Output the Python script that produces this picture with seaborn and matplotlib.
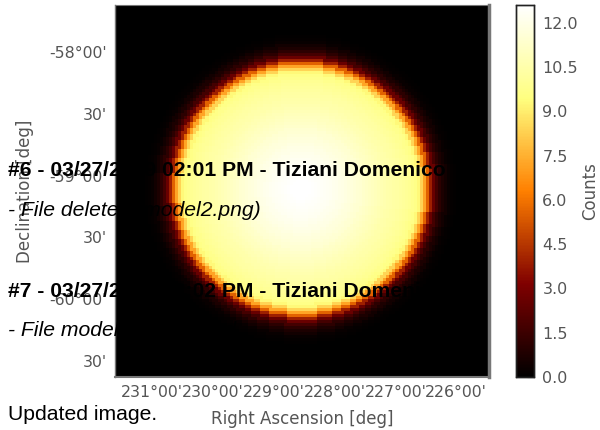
import numpy as np
import seaborn as sns
import matplotlib
matplotlib.use('Agg')
import matplotlib.pyplot as plt

# counts per ring of cells, going out from the centre of the disc
ring_counts = [12.6, 12.6, 12.58, 12.56, 12.53, 12.5, 12.45, 12.4, 12.35, 12.3,
               12.22, 12.15, 12.08, 12.0, 11.92, 11.84, 11.76, 11.68, 11.6, 11.5,
               11.42, 11.32, 11.22, 11.12, 11.02, 10.92, 10.82, 10.72, 10.6, 10.5,
               10.45, 10.38, 10.3, 10.2, 10.1, 10.0, 9.9, 9.75, 9.6, 9.3,
               8.4, 7.2, 5.6, 3.9, 2.6, 1.7, 1.1, 0.7, 0.45, 0.2,
               0.1, 0.05, 0.02, 0.0]
ra_ticks = [231, 230, 229, 228, 227, 226]
ra_labels = ["231°00'", "230°00'", "229°00'", "228°00'", "227°00'", "226°00'"]
dec_ticks = [-58.0, -58.5, -59.0, -59.5, -60.0, -60.5]
dec_labels = ["-58°00'", "30'", "-59°00'", "30'", "-60°00'", "30'"]
cbar_ticks = [0.0, 1.5, 3.0, 4.5, 6.0, 7.5, 9.0, 10.5, 12.0]
ra_range = (231.61, 225.46)
dec_range = (-57.62, -60.63)
centre_cell = (61.2, 60.8)

ncells = 124
rows, cols = np.mgrid[0:ncells, 0:ncells]
rings = np.hypot(cols - centre_cell[0], rows - centre_cell[1]).round().astype(int)
image = np.array(ring_counts)[np.minimum(rings, len(ring_counts) - 1)]

sns.set_style('white')
plt.rcParams['font.family'] = ['DejaVu Sans']
grey = '#555555'

fig = plt.figure(figsize=(6, 4.3), dpi=100)
ax = fig.add_axes([115 / 600, 1 - 377 / 430, 374 / 600, 372 / 430])
cax = fig.add_axes([516 / 600, 1 - 377 / 430, 18 / 600, 372 / 430])
sns.heatmap(image, ax=ax, cbar_ax=cax, cmap='afmhot', vmin=0, vmax=12.6,
            xticklabels=False, yticklabels=False,
            cbar_kws={'ticks': cbar_ticks})
cax.set_yticklabels(['%.1f' % t for t in cbar_ticks])

xpos = [(ra_range[0] - t) / (ra_range[0] - ra_range[1]) * ncells for t in ra_ticks]
ypos = [(dec_range[0] - t) / (dec_range[0] - dec_range[1]) * ncells for t in dec_ticks]
ax.set_xticks(xpos)
ax.set_xticklabels(ra_labels)
ax.set_yticks(ypos)
ax.set_yticklabels(dec_labels)
ax.tick_params(axis='both', direction='in', length=4, width=0.8, color='#777777',
               labelcolor=grey, labelsize=11.3, pad=6, top=True, right=True,
               bottom=True, left=True)
ax.set_xlabel('Right Ascension [deg]', color=grey, fontsize=12, labelpad=7)
ax.set_ylabel('Declination [deg]', color=grey, fontsize=12, labelpad=11)
for name, lw in [('top', 0.8), ('left', 1.0), ('bottom', 1.5), ('right', 2.5)]:
    ax.spines[name].set_visible(True)
    ax.spines[name].set_color('#777777')
    ax.spines[name].set_linewidth(lw)

cax.tick_params(axis='y', direction='in', length=5, width=0.8, color='#555555',
                labelcolor=grey, labelsize=11.5, pad=6, right=True)
cax.set_ylabel('Counts', color=grey, fontsize=12, labelpad=2)
for spine in cax.spines.values():
    spine.set_visible(True)
    spine.set_color('#222222')
    spine.set_linewidth(1.0)

# page text sitting on top of the chart
page = ['Liberation Sans', 'DejaVu Sans']
fig.text(8 / 600, 1 - 176 / 430, '#6 - 03/27/2019 02:01 PM - Tiziani Domenico',
         family=page, weight='bold', fontsize=15.2, color='black', va='baseline')
fig.text(8 / 600, 1 - 216 / 430, '- File deleted (model2.png)',
         family=page, style='italic', fontsize=15.2, color='black', va='baseline')
fig.text(8 / 600, 1 - 297 / 430, '#7 - 03/27/2019 02:02 PM - Tiziani Domenico',
         family=page, weight='bold', fontsize=15.2, color='black', va='baseline')
fig.text(8 / 600, 1 - 336 / 430, '- File model2.png added',
         family=page, style='italic', fontsize=15.2, color='black', va='baseline')
fig.text(8 / 600, 1 - 420 / 430, 'Updated image.',
         family=page, fontsize=15.2, color='black', va='baseline')

fig.savefig('out.png', dpi=100)
